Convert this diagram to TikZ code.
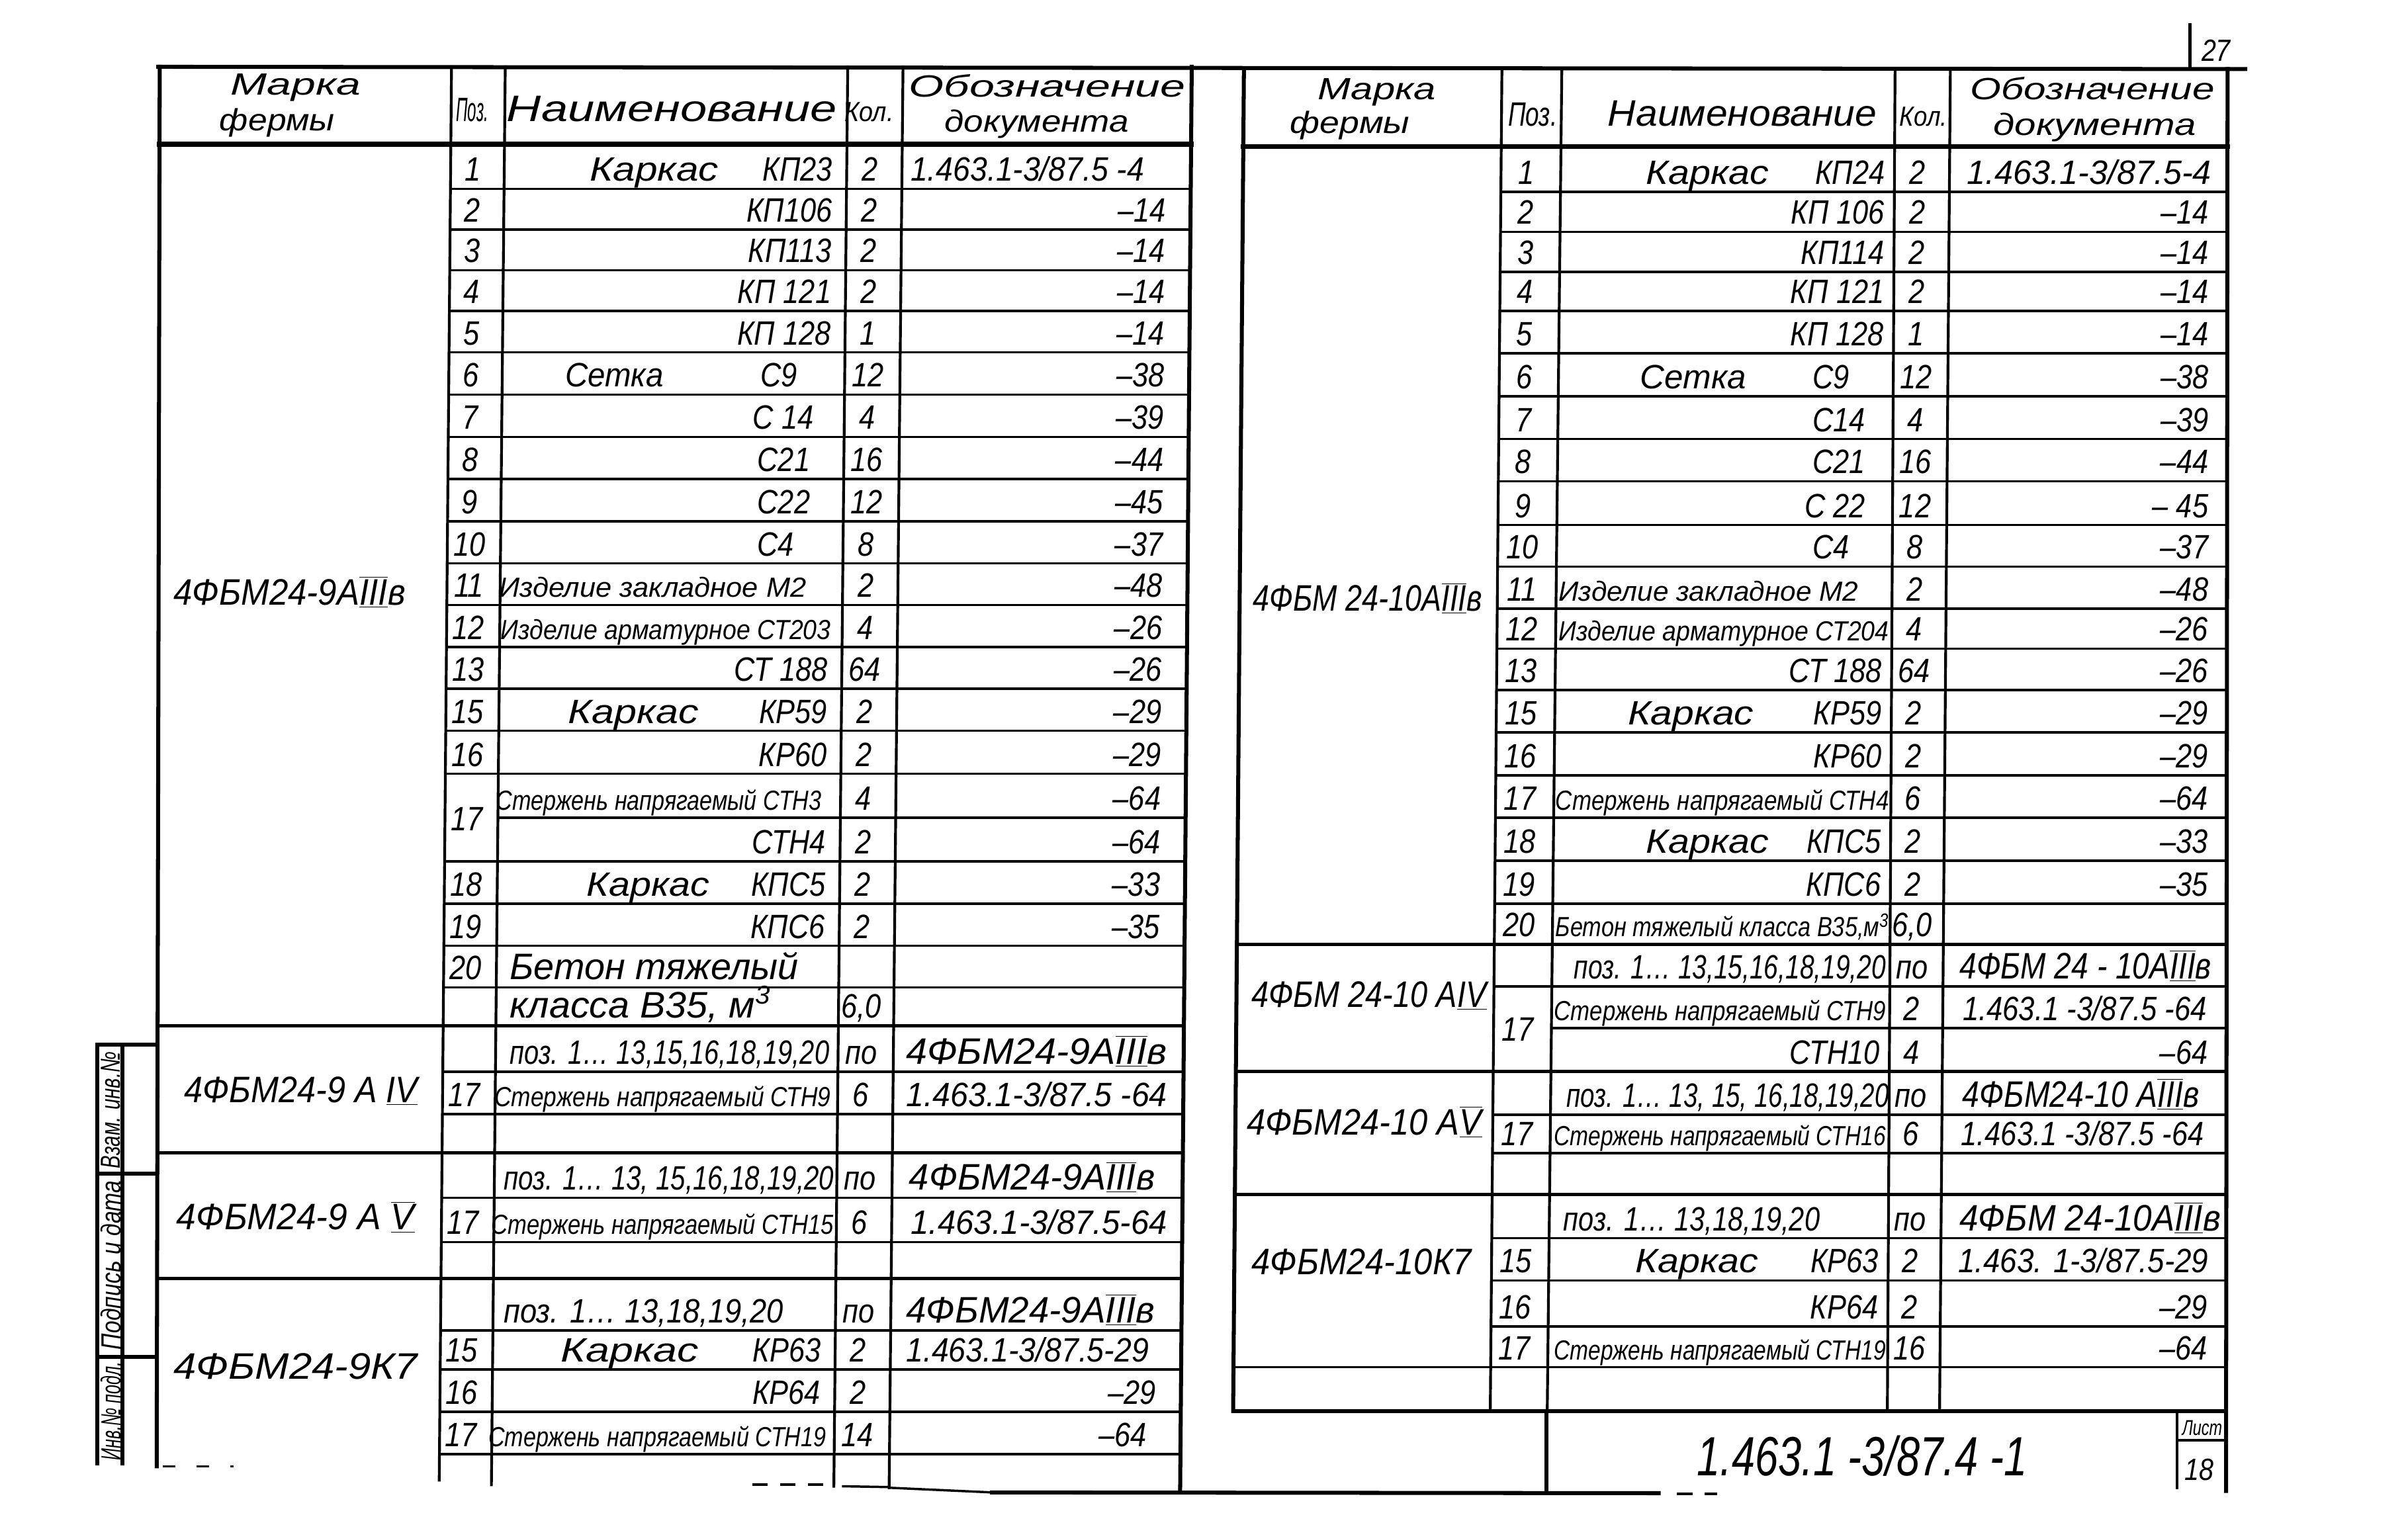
\documentclass[tikz,border=0pt]{standalone}
\usepackage{fontspec}
\setmainfont{Liberation Sans}
\newfontfamily\hw{Liberation Sans}[FakeStretch=0.85]
\newcounter{nd}
\newcommand\setcol[3]{\expandafter\def\csname c#1t\endcsname{#2}\expandafter\def\csname c#1b\endcsname{#3}}
\newcommand\colx[2]{\pgfmathsetmacro\cx{\csname c#1t\endcsname+(\csname c#1b\endcsname-\csname c#1t\endcsname)*((#2)-44)/921}}
\newcommand\HL[4][rowl]{\colx{#2}{#4}\let\xA\cx\colx{#3}{#4}\let\xB\cx\draw[#1] (\xA,#4) -- (\xB,#4);}
\newcommand\VL[4][col]{\colx{#2}{#3}\let\xA\cx\colx{#2}{#4}\let\xB\cx\draw[#1] (\xA,#3) -- (\xB,#4);}
\newcommand\T[4][]{\stepcounter{nd}\node[tx,#1] (n\arabic{nd}) at (#2,#3) {#4};}
\newcommand\TW[5][]{\pgfmathsetmacro\twx{(#2+#3)/2}\pgfmathsetmacro\tww{#3-#2}\T[#1]{\twx}{#4}{\resizebox{\tww pt}{\height}{#5}}}
\newcommand\CEN[5][]{\colx{#2}{#4}\let\xA\cx\colx{#3}{#4}\pgfmathsetmacro\xm{(\xA+\cx)/2-3}\T[#1]{\xm}{#4}{#5}}
\newcommand\RGT[5][]{\colx{#2}{#4}\pgfmathsetmacro\xm{\cx-#3}\T[anchor=base east,#1]{\xm}{#4}{#5}}
\newcommand\LROW[5]{\CEN{Lp}{Ln}{#1}{#2}\RGT{Lk}{9}{#1}{#3}\CEN{Lk}{Ld}{#1}{#4}\RGT{Lr}{16}{#1}{#5}}
\newcommand\RROW[5]{\CEN{Rp}{Rn}{#1}{#2}\RGT{Rk}{6}{#1}{#3}\CEN{Rk}{Rd}{#1}{#4}\RGT{Rr}{12}{#1}{#5}}
\newcommand\LPK[3]{\CEN{Lp}{Ln}{#1}{#2}\CEN{Lk}{Ld}{#1}{#3}}
\newcommand\RPK[3]{\CEN{Rp}{Rn}{#1}{#2}\CEN{Rk}{Rd}{#1}{#3}}
\newcommand\ROM[1]{$\overline{\underline{\mbox{#1}}}$}
\newcommand\UL[1]{$\underline{\mbox{#1}}$}
\setcol{L0}{104}{102}
\setcol{Lp}{294}{286}
\setcol{Ln}{329}{320}
\setcol{Lk}{552}{543}
\setcol{Ld}{588}{579}
\setcol{Lr}{776}{768.5}
\setcol{R0}{810}{802.6}
\setcol{Rp}{978}{970}
\setcol{Rn}{1017}{1007}
\setcol{Rk}{1234}{1228.7}
\setcol{Rd}{1270}{1262.6}
\setcol{Rr}{1450.5}{1449.5}
\tikzset{
  tx/.style={inner sep=0pt, anchor=base, font=\hw\itshape\fontsize{22}{22}\selectfont},
  sm/.style={font=\hw\itshape\fontsize{18}{18}\selectfont},
  md/.style={font=\hw\itshape\fontsize{20}{20}\selectfont},
  hd/.style={font=\hw\itshape\fontsize{24}{24}\selectfont},
  hh/.style={font=\hw\itshape\fontsize{20}{20}\selectfont},
  xs/.style={font=\hw\itshape\fontsize{14}{14}\selectfont},
  ttl/.style={font=\hw\itshape\fontsize{36}{36}\selectfont},
  rowl/.style={line width=1.5pt, line cap=rect},
  col/.style={line width=1.8pt, line cap=rect},
  grp/.style={line width=2.2pt, line cap=rect},
  frame/.style={line width=2.6pt, line cap=rect},
  hdr/.style={line width=3.2pt, line cap=rect},
  dsh/.style={line width=1.5pt, dash pattern=on 10pt off 8pt}
}
\begin{document}
\begin{tikzpicture}[x=1pt,y=-1pt]
\fill[white] (0,0) rectangle (1568,988);
\useasboundingbox (0,0) rectangle (1568,988);
% ---------- grid: left table
\draw[frame] (103,43.5) -- (1462,45);
\VL[frame]{L0}{43.5}{955}
\VL{Lp}{43.5}{964}
\VL{Ln}{43.5}{967}
\VL{Lk}{43.5}{968}
\VL{Ld}{43.5}{969}
\VL[frame]{Lr}{43.5}{971}
\HL[hdr]{L0}{Lr}{94}
\foreach \y in {123,149.5,176,202.5,229.5,257,284.5,312,339.5,367,394,421.5,448.5,476,504,561,588.5,616,643,698,725.5,780,809,866.5,892,919.5,947} {\HL{Lp}{Lr}{\y}}
\HL{Ln}{Lr}{532.5}
\HL[grp]{L0}{Lr}{668}
\HL[grp]{L0}{Lr}{751}
\HL[grp]{L0}{Lr}{832.5}
% ---------- grid: right table
\VL[frame]{R0}{45}{919}
\VL{Rp}{45}{919}
\VL{Rn}{45}{919}
\VL{Rk}{45}{919}
\VL{Rd}{45}{919}
\VL[frame]{Rr}{45}{971}
\HL[hdr]{R0}{Rr}{95.5}
\foreach \y in {125,151,177,202.5,230,258,286,313.5,342,369,396.5,422.5,449.5,477,505,532.5,560.5,588.5,642.5,726,751,806.5,834,864} {\HL{Rp}{Rr}{\y}}
\HL{Rn}{Rr}{669.5}
\HL[grp]{R0}{Rr}{615}
\HL[grp]{R0}{Rr}{698}
\HL[grp]{R0}{Rr}{778}
\HL{R0}{Rr}{890.5}
\HL[frame]{R0}{Rr}{919}
% ---------- title block and bottom edge
\draw[frame] (1007,919) -- (1007,972);
\draw[col] (1417.6,919) -- (1417.6,969);
\draw[col] (1417.6,938) -- (1450,938);
\draw[frame] (646,972) -- (1080,972.5);
\draw[rowl] (580,969) -- (646,972);
\draw[rowl] (549,968) -- (578,968.5);
\draw[dsh] (490,967) -- (541,967);
\draw[dsh] (1092,973) -- (1118,973);
\draw[line width=1.5pt, dash pattern=on 8pt off 14pt] (106,955) -- (152,955);
\draw[col] (1426,16) -- (1426,44);
% ---------- stamp
\draw[frame] (63.5,680.4) -- (63.5,953);
\draw[frame] (79.7,680.4) -- (79.7,953);
\draw[frame] (63.5,680.4) -- (102,680.4);
\draw[frame] (63.5,764.5) -- (102,764.5);
\draw[frame] (63.5,883.8) -- (102,883.8);
\T[sm,rotate=90,anchor=center]{72}{723}{\resizebox{76pt}{\height}{Взам. инв.№}}
\T[sm,rotate=90,anchor=center]{72}{824}{\resizebox{110pt}{\height}{Подпись и дата}}
\T[sm,rotate=90,anchor=center]{72}{919}{\resizebox{64pt}{\height}{Инв.№ подл.}}
% ---------- headers
\TW[hh]{150}{235}{62}{Марка}
\TW[hh]{143}{218}{85}{фермы}
\TW{297}{318}{79}{Поз.}
\TW[hd]{330}{545}{79}{Наименование}
\TW[sm]{550}{582}{79}{Кол.}
\TW[hh]{592}{772}{63}{Обозначение}
\TW[hh]{615}{735}{86}{документа}
\TW[hh]{858}{935}{65}{Марка}
\TW[hh]{840}{918}{87}{фермы}
\TW{982}{1014}{82}{Поз.}
\TW[hd]{1047}{1222}{82}{Наименование}
\TW[sm]{1237}{1268}{82}{Кол.}
\TW[hh]{1283}{1442}{65}{Обозначение}
\TW[hh]{1298}{1430}{88}{документа}
% ---------- left table rows
\LPK{118}{1}{2}
\TW{384}{468}{118}{Каркас}
\RGT{Lk}{9}{118}{КП23}
\TW{593}{745}{118}{1.463.1-3/87.5 -4}
\LROW{144.5}{2}{КП106}{2}{–14}
\LROW{171}{3}{КП113}{2}{–14}
\LROW{197.5}{4}{КП 121}{2}{–14}
\LROW{224.5}{5}{КП 128}{1}{–14}
\LPK{252}{6}{12}
\TW{368}{432}{252}{Сетка}
\T[anchor=base west]{495}{252}{С9}
\RGT{Lr}{16}{252}{–38}
\LPK{279.5}{7}{4}
\T[anchor=base west]{490}{279.5}{С 14}
\RGT{Lr}{16}{279.5}{–39}
\LPK{307}{8}{16}
\T[anchor=base west]{493}{307}{С21}
\RGT{Lr}{16}{307}{–44}
\LPK{334.5}{9}{12}
\T[anchor=base west]{493}{334.5}{С22}
\RGT{Lr}{16}{334.5}{–45}
\LPK{362}{10}{8}
\T[anchor=base west]{493}{362}{С4}
\RGT{Lr}{16}{362}{–37}
\LPK{389}{11}{2}
\TW[sm]{325}{525}{389}{Изделие закладное М2}
\RGT{Lr}{16}{389}{–48}
\LPK{416.5}{12}{4}
\TW[sm]{326}{541}{416.5}{Изделие арматурное СТ203}
\RGT{Lr}{16}{416.5}{–26}
\LROW{443.5}{13}{СТ 188}{64}{–26}
\LROW{471}{15}{КР59}{2}{–29}
\TW{370}{455}{471}{Каркас}
\LROW{499}{16}{КР60}{2}{–29}
\CEN{Lp}{Ln}{541}{17}
\TW[sm]{323}{535}{527.5}{Стержень напрягаемый СТН3}
\CEN{Lk}{Ld}{527.5}{4}
\RGT{Lr}{16}{527.5}{–64}
\RGT{Lk}{9}{556}{СТН4}
\CEN{Lk}{Ld}{556}{2}
\RGT{Lr}{16}{556}{–64}
\LROW{583.5}{18}{КПС5}{2}{–33}
\TW{382}{462}{583.5}{Каркас}
\LROW{611}{19}{КПС6}{2}{–35}
\CEN{Lp}{Ln}{638}{20}
\TW[hd]{332}{520}{638}{Бетон тяжелый}
\TW[hd]{332}{502}{663}{класса В35, м\textsuperscript{3}}
\CEN{Lk}{Ld}{663}{6,0}
\TW[hd]{113}{264}{394}{4ФБМ24-9А\ROM{III}в}
% group 2 left
\TW[hd]{120}{272}{718}{4ФБМ24-9 А \UL{IV}}
\TW{332}{540}{693}{поз. 1… 13,15,16,18,19,20}
\CEN{Lk}{Ld}{693}{по}
\TW[hd]{590}{760}{693}{4ФБМ24-9А\ROM{III}в}
\LPK{720.5}{17}{6}
\TW[sm]{322}{541}{720.5}{Стержень напрягаемый СТН9}
\TW{590}{760}{720.5}{1.463.1-3/87.5 -64}
% group 3 left
\TW[hd]{115}{270}{801}{4ФБМ24-9 А \ROM{V}}
\TW{328}{543}{775}{поз. 1… 13, 15,16,18,19,20}
\CEN{Lk}{Ld}{775}{по}
\TW[hd]{592}{752}{775}{4ФБМ24-9А\ROM{III}в}
\LPK{804}{17}{6}
\TW[sm]{320}{543}{804}{Стержень напрягаемый СТН15}
\TW{593}{760}{804}{1.463.1-3/87.5-64}
% group 4 left
\TW[hd]{113}{272}{898}{4ФБМ24-9К7}
\TW{328}{510}{861.5}{поз. 1… 13,18,19,20}
\CEN{Lk}{Ld}{861.5}{по}
\TW[hd]{590}{752}{861.5}{4ФБМ24-9А\ROM{III}в}
\LPK{887}{15}{2}
\TW{365}{455}{887}{Каркас}
\RGT{Lk}{9}{887}{КР63}
\TW{590}{748}{887}{1.463.1-3/87.5-29}
\LROW{914.5}{16}{КР64}{2}{–29}
\LPK{942}{17}{14}
\TW[sm]{318}{538}{942}{Стержень напрягаемый СТН19}
\RGT{Lr}{22}{942}{–64}
% ---------- right table rows
\RPK{120}{1}{2}
\TW{1072}{1152}{120}{Каркас}
\RGT{Rk}{6}{120}{КП24}
\TW{1281}{1440}{120}{1.463.1-3/87.5-4}
\RROW{146}{2}{КП 106}{2}{–14}
\RROW{172}{3}{КП114}{2}{–14}
\RROW{197.5}{4}{КП 121}{2}{–14}
\RROW{225}{5}{КП 128}{1}{–14}
\RPK{253}{6}{12}
\TW{1068}{1137}{253}{Сетка}
\T[anchor=base west]{1180}{253}{С9}
\RGT{Rr}{12}{253}{–38}
\RPK{281}{7}{4}
\T[anchor=base west]{1180}{281}{С14}
\RGT{Rr}{12}{281}{–39}
\RPK{308.5}{8}{16}
\T[anchor=base west]{1180}{308.5}{С21}
\RGT{Rr}{12}{308.5}{–44}
\RPK{337}{9}{12}
\T[anchor=base west]{1175}{337}{С 22}
\RGT{Rr}{12}{337}{– 45}
\RPK{364}{10}{8}
\T[anchor=base west]{1180}{364}{С4}
\RGT{Rr}{12}{364}{–37}
\RPK{391.5}{11}{2}
\TW[sm]{1015}{1210}{391.5}{Изделие закладное М2}
\RGT{Rr}{12}{391.5}{–48}
\RPK{417.5}{12}{4}
\TW[sm]{1015}{1230}{417.5}{Изделие арматурное СТ204}
\RGT{Rr}{12}{417.5}{–26}
\RROW{444.5}{13}{СТ 188}{64}{–26}
\RROW{472}{15}{КР59}{2}{–29}
\TW{1060}{1142}{472}{Каркас}
\RROW{500}{16}{КР60}{2}{–29}
\RPK{527.5}{17}{6}
\TW[sm]{1013}{1230}{527.5}{Стержень напрягаемый СТН4}
\RGT{Rr}{12}{527.5}{–64}
\RROW{555.5}{18}{КПС5}{2}{–33}
\TW{1072}{1152}{555.5}{Каркас}
\RROW{583.5}{19}{КПС6}{2}{–35}
\RPK{610}{20}{6,0}
\TW[sm]{1013}{1230}{610}{Бетон тяжелый класса В35,м\textsuperscript{3}}
\TW[hd]{816}{965}{398}{4ФБМ 24-10А\ROM{III}в}
% group 2 right
\TW[hd]{815}{968}{656}{4ФБМ 24-10 А\UL{IV}}
\TW{1025}{1228}{637.5}{поз. 1… 13,15,16,18,19,20}
\CEN{Rk}{Rd}{637.5}{по}
\TW[hd]{1276}{1440}{637.5}{4ФБМ 24 - 10А\ROM{III}в}
\CEN{Rp}{Rn}{678}{17}
\TW[sm]{1012}{1228}{664.5}{Стержень напрягаемый СТН9}
\CEN{Rk}{Rd}{664.5}{2}
\TW{1278}{1437}{664.5}{1.463.1 -3/87.5 -64}
\RGT{Rk}{6}{693}{СТН10}
\CEN{Rk}{Rd}{693}{4}
\RGT{Rr}{12}{693}{–64}
% group 3 right
\TW[hd]{812}{965}{739}{4ФБМ24-10 А\ROM{V}}
\TW{1020}{1230}{721}{поз. 1… 13, 15, 16,18,19,20}
\CEN{Rk}{Rd}{721}{по}
\TW[hd]{1278}{1432}{721}{4ФБМ24-10 А\ROM{III}в}
\RPK{746}{17}{6}
\TW[sm]{1012}{1228}{746}{Стержень напрягаемый СТН16}
\TW{1277}{1435}{746}{1.463.1 -3/87.5 -64}
% group 4 right
\TW[hd]{815}{958}{830}{4ФБМ24-10К7}
\TW{1018}{1185}{801.5}{поз. 1… 13,18,19,20}
\CEN{Rk}{Rd}{801.5}{по}
\TW[hd]{1276}{1446}{801.5}{4ФБМ 24-10А\ROM{III}в}
\RPK{829}{15}{2}
\TW{1065}{1145}{829}{Каркас}
\RGT{Rk}{6}{829}{КР63}
\TW{1275}{1438}{829}{1.463. 1-3/87.5-29}
\RROW{859}{16}{КР64}{2}{–29}
\RPK{885.5}{17}{16}
\TW[sm]{1012}{1228}{885.5}{Стержень напрягаемый СТН19}
\RGT{Rr}{12}{885.5}{–64}
% ---------- title block
\TW[ttl]{1105}{1320}{961}{1.463.1 -3/87.4 -1}
\TW[xs]{1421}{1447}{935}{Лист}
\T[md]{1432}{964}{18}
\T[md]{1443}{40}{27}
\end{tikzpicture}
\end{document}
